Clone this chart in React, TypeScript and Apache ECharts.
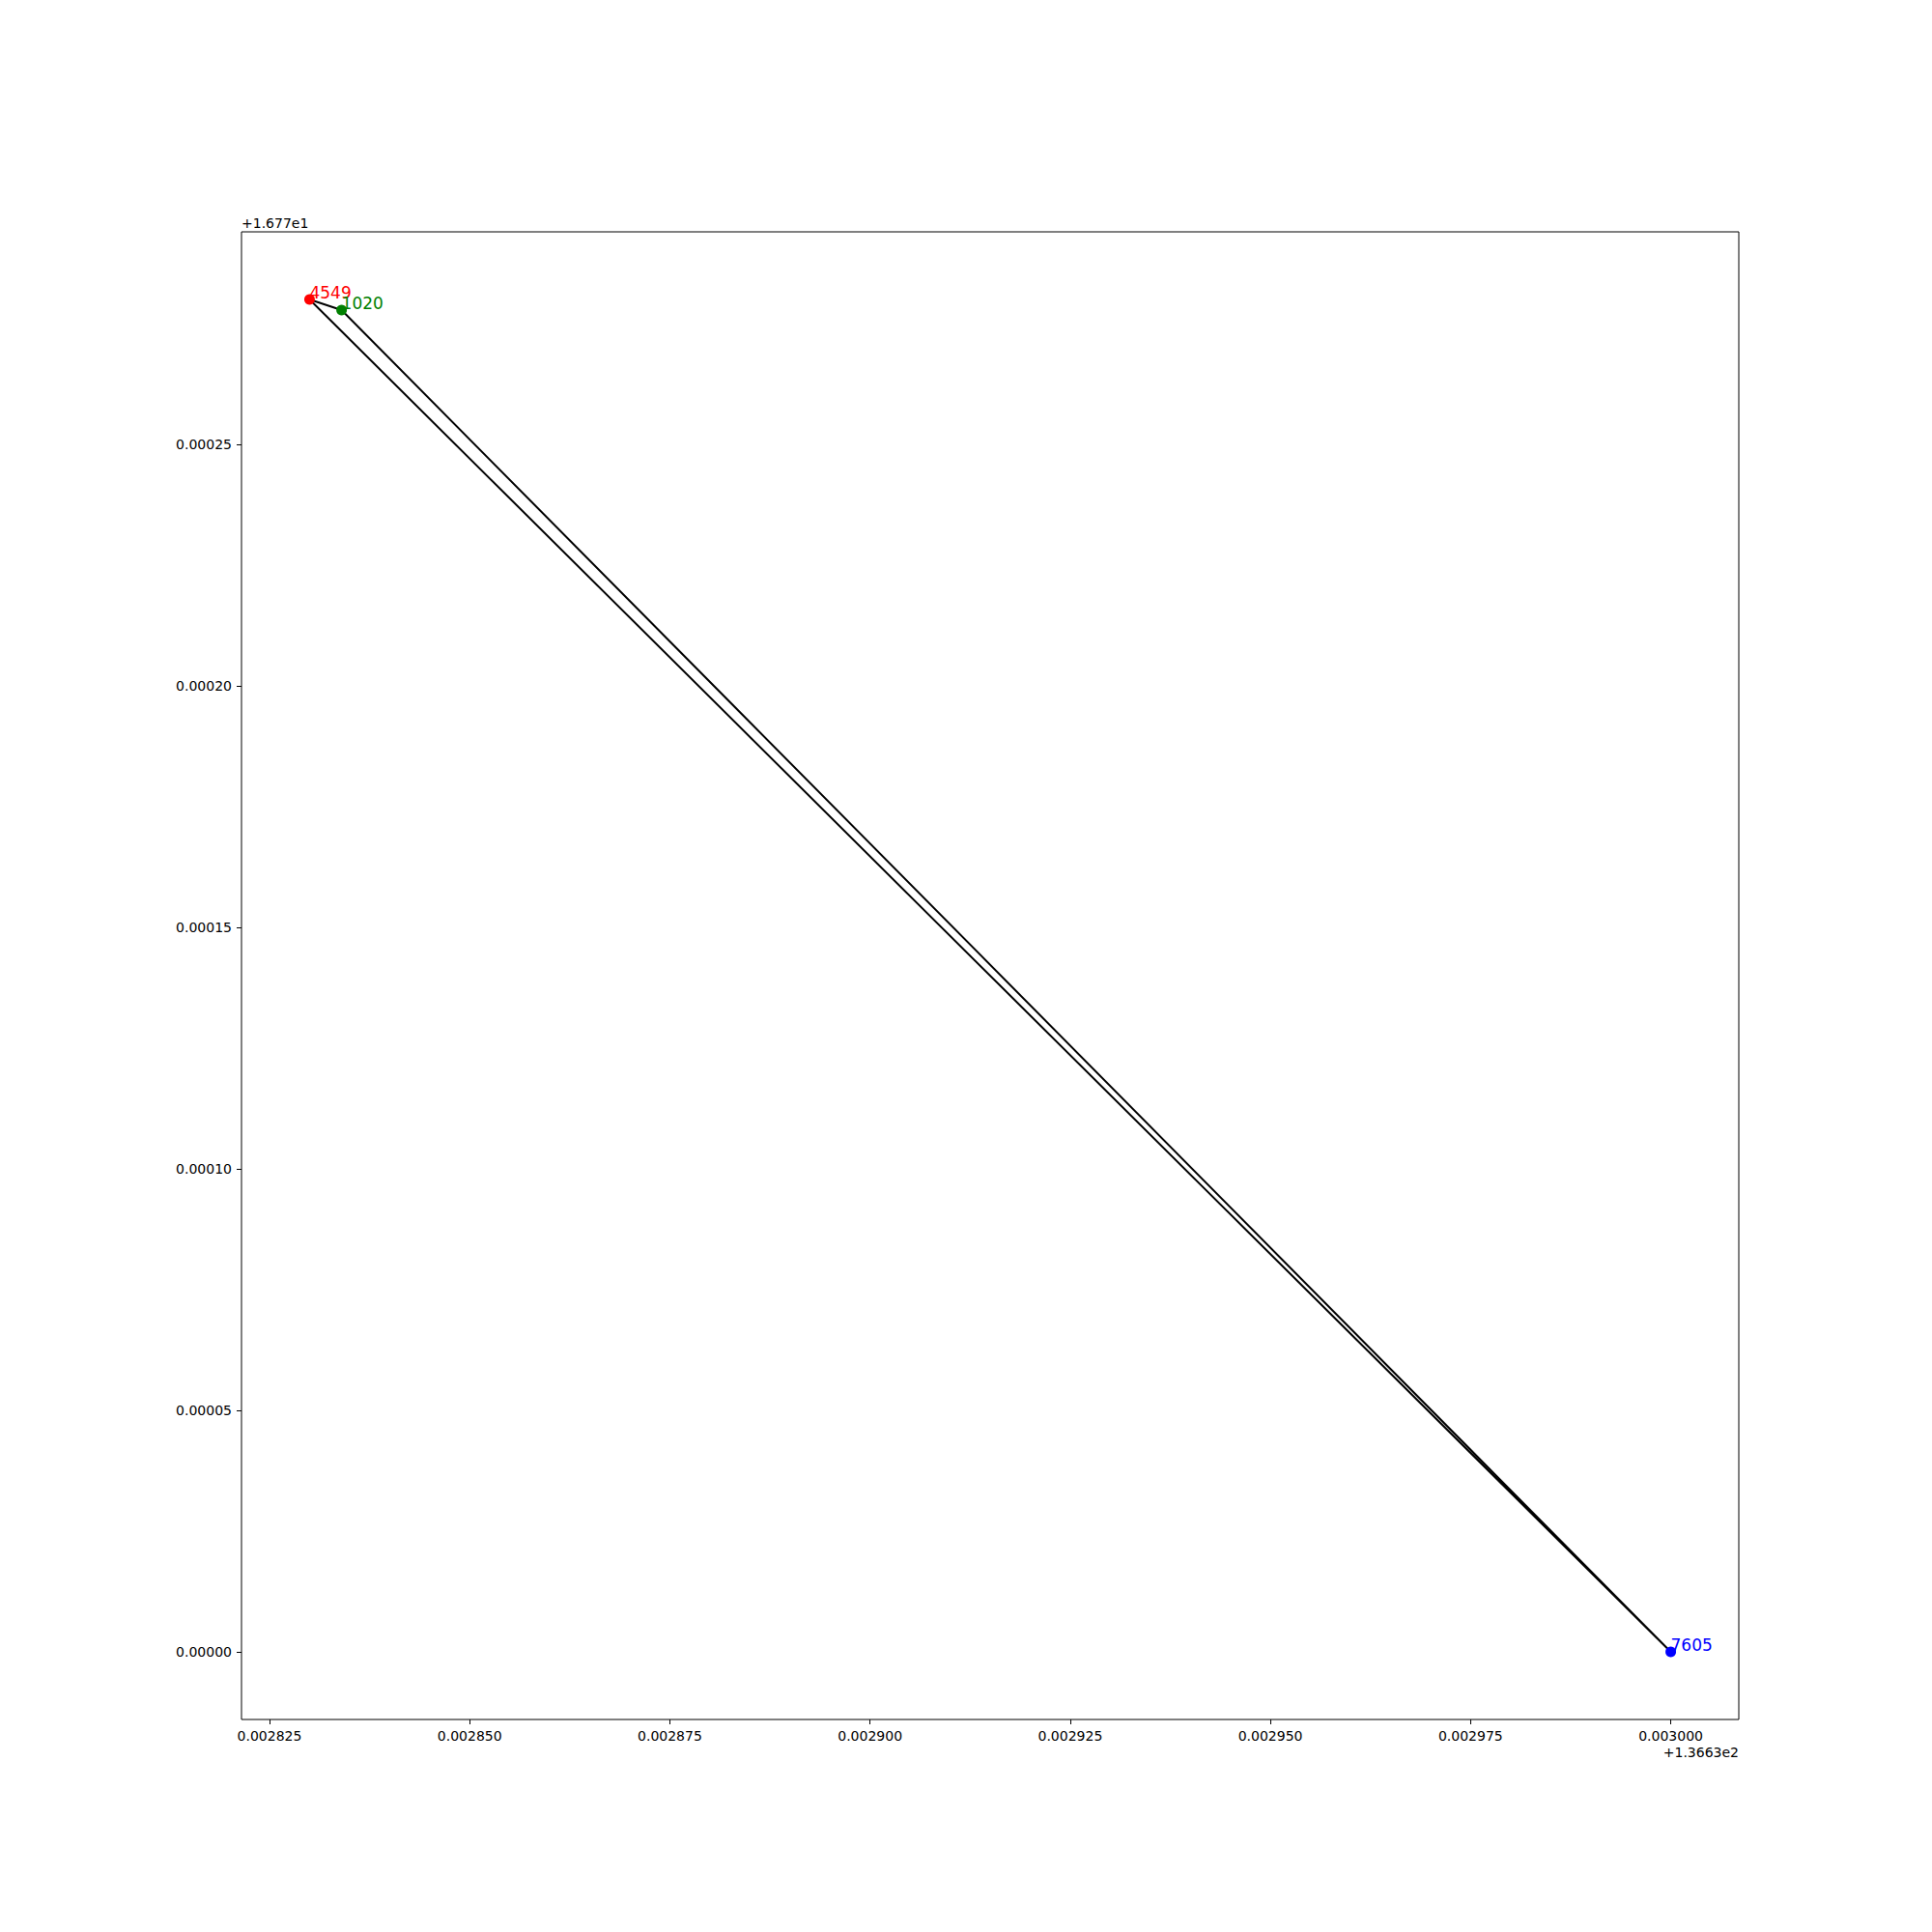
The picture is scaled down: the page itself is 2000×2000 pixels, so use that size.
import React, { useEffect, useRef } from "react";
import * as echarts from "echarts";

const X_OFFSET = 136.63;
const Y_OFFSET = 16.77;
const pointNames = ["4549", "1020", "7605"];
const pointX = [136.63283, 136.632834, 136.633];
const pointY = [16.77028, 16.7702778, 16.77];
const pointColors = ["#ff0000", "#008000", "#0000ff"];
const routeOrder = [0, 1, 2, 0];
const xTicks = [0.002825, 0.00285, 0.002875, 0.0029, 0.002925, 0.00295, 0.002975, 0.003];
const yTicks = [0, 0.00005, 0.0001, 0.00015, 0.0002, 0.00025];
const xOffsetLabel = "+1.3663e2";
const yOffsetLabel = "+1.677e1";

export default function App() {
  const ref = useRef<HTMLDivElement>(null);
  useEffect(() => {
    if (!ref.current) return;
    const chart = echarts.init(ref.current, null, { renderer: "svg" });
    const xs = pointX.map((v) => v - X_OFFSET);
    const ys = pointY.map((v) => v - Y_OFFSET);
    const xMinD = Math.min(...xs), xMaxD = Math.max(...xs);
    const yMinD = Math.min(...ys), yMaxD = Math.max(...ys);
    const xm = (xMaxD - xMinD) * 0.05;
    const ym = (yMaxD - yMinD) * 0.05;
    const font = "DejaVu Sans";
    chart.setOption({
      animation: false,
      backgroundColor: "#ffffff",
      textStyle: { fontFamily: font },
      grid: {
        left: 250, right: 200, top: 240, bottom: 220,
        show: true, borderColor: "#000000", borderWidth: 1, backgroundColor: "transparent",
      },
      xAxis: {
        type: "value",
        min: xMinD - xm,
        max: xMaxD + xm,
        axisLine: { show: false, onZero: false },
        splitLine: { show: false },
        axisTick: { show: true, inside: false, length: 5, lineStyle: { color: "#000", width: 1 }, customValues: xTicks },
        axisLabel: {
          customValues: xTicks,
          margin: 10,
          color: "#000",
          fontSize: 14,
          fontFamily: font,
          formatter: (v: number) => v.toFixed(6),
        },
      },
      yAxis: {
        type: "value",
        min: yMinD - ym,
        max: yMaxD + ym,
        axisLine: { show: false, onZero: false },
        splitLine: { show: false },
        axisTick: { show: true, inside: false, length: 5, lineStyle: { color: "#000", width: 1 }, customValues: yTicks },
        axisLabel: {
          customValues: yTicks,
          margin: 10,
          color: "#000",
          fontSize: 14,
          fontFamily: font,
          formatter: (v: number) => v.toFixed(5),
        },
      },
      graphic: [
        { type: "text", left: 250, top: 224, style: { text: yOffsetLabel, fontSize: 14, fontFamily: font, fill: "#000" } },
        { type: "text", right: 200, top: 1807, style: { text: xOffsetLabel, fontSize: 14, fontFamily: font, fill: "#000" } },
      ],
      series: [
        {
          type: "line",
          data: routeOrder.map((i) => [xs[i], ys[i]]),
          symbol: "none",
          lineStyle: { color: "#000000", width: 2 },
          z: 2,
        },
        {
          type: "scatter",
          symbolSize: 11,
          z: 3,
          itemStyle: { opacity: 1 },
          data: xs.map((x, i) => ({
            name: pointNames[i],
            value: [x, ys[i]],
            itemStyle: { color: pointColors[i], opacity: 1 },
            label: {
              show: true,
              formatter: pointNames[i],
              position: [5.5, 7],
              align: "left",
              verticalAlign: "bottom",
              color: pointColors[i],
              opacity: 1,
              fontSize: 17,
              fontFamily: font,
            },
          })),
        },
      ],
    });
    return () => chart.dispose();
  }, []);
  return <div ref={ref} style={{ position: "absolute", left: 0, top: 0, width: 2000, height: 2000 }} />;
}
